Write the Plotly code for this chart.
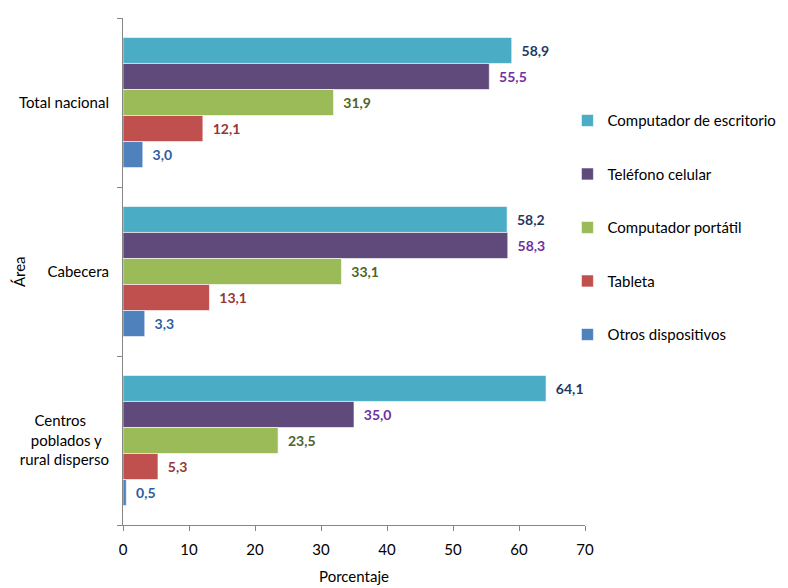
import plotly.graph_objects as go

# Area categories (top to bottom)
areas = ["Total nacional", "Cabecera", "Centros poblados y rural disperso"]
area_ticks = [
    "Total nacional",
    "Cabecera",
    "Centros\u00a0\u00a0\u00a0\u00a0\u00a0\u00a0<br>poblados y\u00a0\u00a0<br>rural disperso",
]

devices = [
    "Computador de escritorio",
    "Teléfono celular",
    "Computador portátil",
    "Tableta",
    "Otros dispositivos",
]

escritorio = [58.9, 58.2, 64.1]
celular = [55.5, 58.3, 35.0]
portatil = [31.9, 33.1, 23.5]
tableta = [12.1, 13.1, 5.3]
otros = [3.0, 3.3, 0.5]

series = [escritorio, celular, portatil, tableta, otros]
bar_colors = ["#4BACC6", "#604A7B", "#9BBB59", "#C0504D", "#4F81BD"]
label_colors = ["#1F3864", "#7030A0", "#4F6228", "#953735", "#2E5D9F"]

x_ticks = [0, 10, 20, 30, 40, 50, 60, 70]

FONT = "Lato, 'Open Sans', sans-serif"

fig = go.Figure()
for name, vals, col, lcol in zip(devices, series, bar_colors, label_colors):
    fig.add_trace(
        go.Bar(
            y=areas,
            x=vals,
            name=name,
            orientation="h",
            marker=dict(color=col, line=dict(color="rgba(255,255,255,0.6)", width=1)),
            texttemplate="\u00a0\u00a0%{x:.1f}",
            textposition="outside",
            textfont=dict(family=FONT, size=14, color=lcol, weight="bold"),
            cliponaxis=False,
            legendgroup=name,
        )
    )

fig.update_layout(
    width=788,
    height=588,
    barmode="group",
    bargap=0.23,
    bargroupgap=0,
    separators=",.",
    paper_bgcolor="white",
    plot_bgcolor="white",
    font=dict(family=FONT, size=14, color="#000000"),
    margin=dict(l=123, r=203, t=18, b=63, autoexpand=False),
    legend=dict(
        x=0.962,
        xanchor="left",
        y=0.83,
        yanchor="top",
        font=dict(family=FONT, size=15, color="#000000"),
        tracegroupgap=31,
        itemwidth=30,
        bgcolor="rgba(0,0,0,0)",
    ),
    xaxis=dict(
        range=[0, 70],
        tickvals=x_ticks,
        ticks="outside",
        ticklen=5,
        tickcolor="#868686",
        showline=True,
        linecolor="#868686",
        linewidth=1,
        showgrid=False,
        zeroline=False,
        ticklabelstandoff=6,
        tickfont=dict(family=FONT, size=15, color="#000000"),
        title=dict(text="Porcentaje", font=dict(family=FONT, size=15), standoff=14),
    ),
    yaxis=dict(
        autorange="reversed",
        tickvals=areas,
        ticktext=area_ticks,
        ticks="outside",
        tickson="boundaries",
        ticklen=5,
        tickcolor="#868686",
        showline=True,
        linecolor="#868686",
        linewidth=1,
        showgrid=False,
        ticklabelstandoff=10,
        tickfont=dict(family=FONT, size=15, color="#000000"),
        automargin=False,
    ),
    annotations=[
        dict(
            text="Área",
            xref="paper",
            yref="paper",
            x=-0.226,
            y=0.5,
            xanchor="center",
            yanchor="middle",
            textangle=-90,
            showarrow=False,
            font=dict(family=FONT, size=15, color="#000000"),
        )
    ],
)

fig.write_html("out.html")
